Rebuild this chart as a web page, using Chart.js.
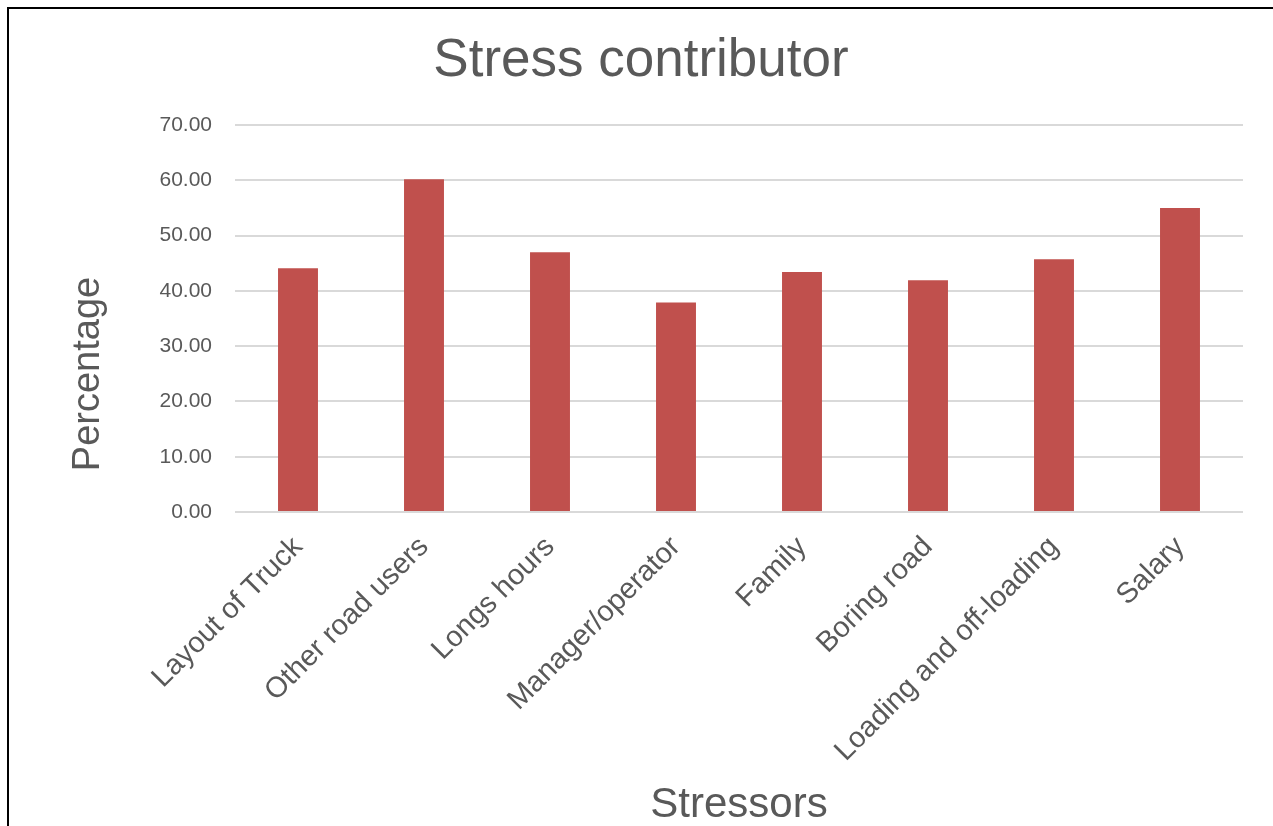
<!DOCTYPE html>
<html>
<head>
<meta charset="utf-8">
<script src="https://cdn.jsdelivr.net/npm/chart.js@4.4.1/dist/chart.umd.min.js"></script>
<style>
  html, body { margin: 0; padding: 0; background: #fff; }
  #wrap { position: relative; width: 1273px; height: 826px; overflow: hidden; }
  #frame {
    position: absolute; left: 7px; top: 7px; right: -10px; bottom: -10px;
    border-left: 2px solid #000; border-top: 2px solid #000;
    pointer-events: none;
  }
  canvas { position: absolute; left: 0; top: 0; }
</style>
</head>
<body>
<div id="wrap">
  <canvas id="chart" width="1273" height="826"></canvas>
  <div id="frame"></div>
</div>
<script>
// Stressors and the share of respondents naming each one (%)
const categories = [
  "Layout of Truck",
  "Other road users",
  "Longs hours",
  "Manager/operator",
  "Family",
  "Boring road",
  "Loading and off-loading",
  "Salary"
];
const percentages = [44.1, 60.2, 47.0, 37.9, 43.4, 41.9, 45.7, 55.0];

const chartTitle = "Stress contributor";
const xAxisTitle = "Stressors";
const yAxisTitle = "Percentage";
const yMin = 0, yMax = 70, yStep = 10;

const FONT = "'Liberation Sans', Arial, Helvetica, sans-serif";
const TEXT = "#595959";

// Vertical axis title drawn beside the value axis
const yTitlePlugin = {
  id: "yTitle",
  afterDraw(chart) {
    const ctx = chart.ctx;
    ctx.save();
    ctx.font = "38px " + FONT;
    ctx.fillStyle = TEXT;
    ctx.textAlign = "center";
    ctx.textBaseline = "alphabetic";
    ctx.translate(98.5, 374);
    ctx.rotate(-Math.PI / 2);
    ctx.fillText(yAxisTitle, 0, 0);
    ctx.restore();
  }
};

new Chart(document.getElementById("chart"), {
  type: "bar",
  data: {
    labels: categories,
    datasets: [{
      label: yAxisTitle,
      data: percentages,
      backgroundColor: "#C0504D",
      borderWidth: 0,
      barPercentage: 0.317,
      categoryPercentage: 1.0
    }]
  },
  options: {
    responsive: false,
    animation: false,
    devicePixelRatio: 1,
    layout: { padding: { left: 39, right: 30, top: 0, bottom: 0 } },
    plugins: {
      legend: { display: false },
      tooltip: { enabled: false },
      title: {
        display: true,
        text: chartTitle,
        color: TEXT,
        font: { family: FONT, size: 53, weight: "normal" },
        padding: { top: 29.7, bottom: 31.7 }
      }
    },
    scales: {
      x: {
        grid: { display: false, drawTicks: false },
        border: { display: false },
        ticks: {
          autoSkip: false,
          minRotation: 45,
          maxRotation: 45,
          padding: 18,
          color: TEXT,
          font: { family: FONT, size: 29 }
        },
        title: {
          display: true,
          text: xAxisTitle,
          color: TEXT,
          font: { family: FONT, size: 42 },
          padding: { top: 0, bottom: -5 }
        },
        afterFit(scale) { scale.height = 314; }
      },
      y: {
        min: yMin,
        max: yMax,
        grid: { color: "#D9D9D9", lineWidth: 2, drawTicks: false },
        border: { display: false },
        ticks: {
          stepSize: yStep,
          padding: 23,
          color: TEXT,
          font: { family: FONT, size: 21 },
          callback: v => Number(v).toFixed(2)
        },
        afterFit(scale) { scale.width = 196; }
      }
    }
  },
  plugins: [yTitlePlugin]
});
</script>
</body>
</html>
